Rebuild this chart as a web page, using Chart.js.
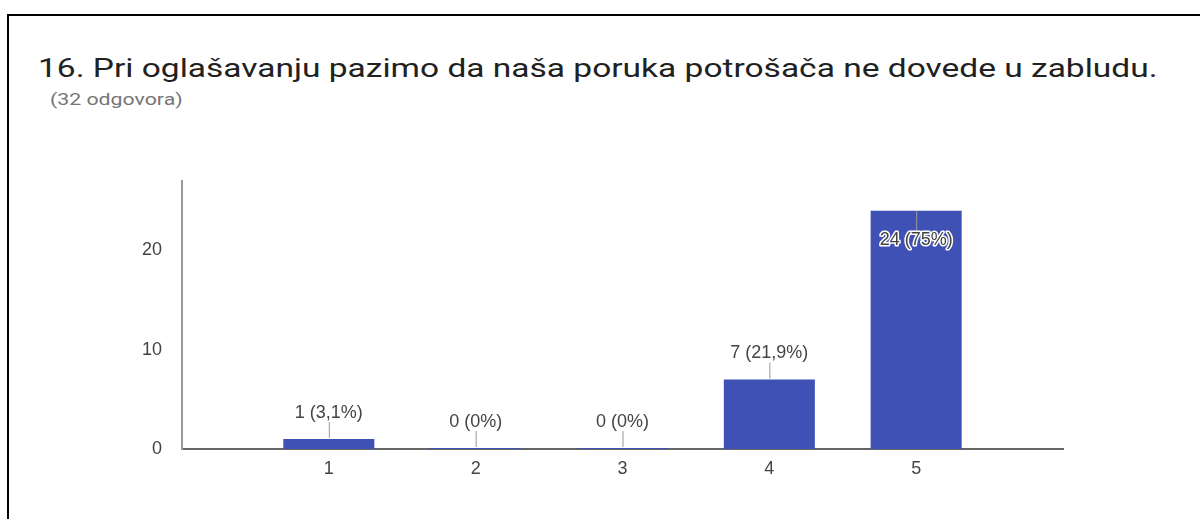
<!DOCTYPE html>
<html>
<head>
<meta charset="utf-8">
<script src="https://cdn.jsdelivr.net/npm/chart.js@4/dist/chart.umd.min.js"></script>
<style>
  html, body { margin: 0; padding: 0; background: #fff; }
  #page { position: relative; width: 1200px; height: 519px; overflow: hidden; }
  #frame { position: absolute; left: 7px; top: 14px; width: 1300px; height: 600px;
           border-left: 2px solid #000; border-top: 2px solid #000; }
  #title { position: absolute; left: 38px; top: 56px; font: 25px Roboto, sans-serif;
           line-height: 25px; color: #212121; white-space: nowrap;
           transform: scaleX(1.34); transform-origin: 0 0; }
  #subtitle { position: absolute; left: 50px; top: 92px; font: 16px Roboto, sans-serif;
              line-height: 16px; color: #757575; white-space: nowrap;
              transform: scaleX(1.33); transform-origin: 0 0; }
  #chart { position: absolute; left: 0; top: 0; }
</style>
</head>
<body>
<div id="page">
  <div id="frame"></div>
  <div id="title">16. Pri oglašavanju pazimo da naša poruka potrošača ne dovede u zabludu.</div>
  <div id="subtitle">(32 odgovora)</div>
  <canvas id="chart" width="1200" height="519"></canvas>
</div>
<script>
const answers = ['1', '2', '3', '4', '5'];
const counts = [1, 0, 0, 7, 24];
const percents = ['3,1%', '0%', '0%', '21,9%', '75%'];
const yTicks = [0, 10, 20];

// empty slot on each side, like the google forms chart
const axisLabels = ['', ...answers, ''];
const axisData = [null, ...counts, null];
const axisText = [null, ...counts.map((c, i) => `${c} (${percents[i]})`), null];

const barColor = 'rgb(63, 81, 181)';
const textColor = '#444';
const labelFont = '18px "Liberation Sans", Arial, sans-serif';

// annotations with little leader lines
const annotations = {
  id: 'annotations',
  afterDatasetsDraw(chart) {
    const ctx = chart.ctx;
    const area = chart.chartArea;
    const meta = chart.getDatasetMeta(0);
    ctx.save();
    ctx.font = labelFont;
    ctx.textAlign = 'center';
    ctx.textBaseline = 'middle';
    meta.data.forEach((bar, i) => {
      const text = axisText[i];
      if (text == null) return;
      const inside = bar.y - area.top < 45;
      ctx.strokeStyle = '#999';
      ctx.lineWidth = 1;
      ctx.beginPath();
      if (inside) {
        ctx.moveTo(bar.x + 0.5, bar.y);
        ctx.lineTo(bar.x + 0.5, bar.y + 20);
      } else {
        ctx.moveTo(bar.x + 0.5, bar.y - 1);
        ctx.lineTo(bar.x + 0.5, bar.y - 17);
      }
      ctx.stroke();
      const ty = inside ? bar.y + 29 : bar.y - 26;
      if (inside) {
        ctx.strokeStyle = '#fff';
        ctx.lineWidth = 3;
        ctx.lineJoin = 'round';
        ctx.strokeText(text, bar.x, ty);
      }
      ctx.fillStyle = textColor;
      ctx.fillText(text, bar.x, ty);
    });
    ctx.restore();
  }
};

new Chart(document.getElementById('chart'), {
  type: 'bar',
  data: {
    labels: axisLabels,
    datasets: [{
      data: axisData,
      backgroundColor: barColor,
      borderWidth: 0,
      minBarLength: 1,
      barPercentage: 0.62,
      categoryPercentage: 1.0
    }]
  },
  options: {
    responsive: false,
    animation: false,
    maintainAspectRatio: false,
    layout: { padding: { left: 0, right: 137, top: 181, bottom: 0 } },
    scales: {
      x: {
        offset: false,
        grid: { display: false, drawTicks: false },
        border: { display: true, color: '#666', width: 2 },
        ticks: { color: textColor, font: { family: '"Liberation Sans", Arial, sans-serif', size: 18 }, padding: 9, maxRotation: 0, autoSkip: false },
        afterFit(scale) { scale.height = 70; }
      },
      y: {
        min: 0,
        max: 27,
        grid: { display: false, drawTicks: false },
        border: { display: true, color: '#999', width: 2 },
        ticks: { color: textColor, font: { family: '"Liberation Sans", Arial, sans-serif', size: 18 }, padding: 20 },
        afterBuildTicks(scale) { scale.ticks = yTicks.map(v => ({ value: v })); },
        afterFit(scale) { scale.width = 182; }
      }
    },
    plugins: {
      legend: { display: false },
      tooltip: { enabled: false }
    }
  },
  plugins: [annotations]
});
</script>
</body>
</html>
